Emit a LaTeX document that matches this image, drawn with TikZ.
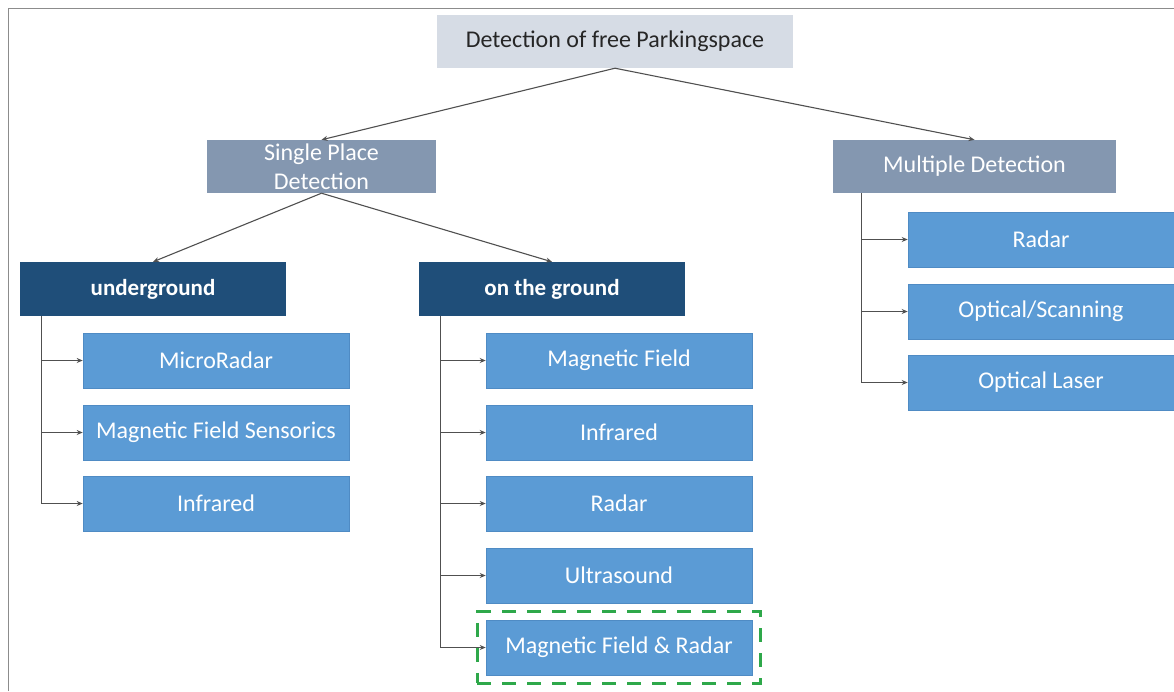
\documentclass[tikz,border=0pt]{standalone}
\usepackage{fontspec}
\setmainfont{Carlito}
\usetikzlibrary{arrows.meta,fit}
\definecolor{rootfill}{HTML}{D6DCE5}
\definecolor{midfill}{HTML}{8497B0}
\definecolor{navy}{HTML}{1F4E79}
\definecolor{leaf}{HTML}{5B9BD5}
\definecolor{leafedge}{HTML}{4F8BC4}
\definecolor{conn}{HTML}{505050}
\definecolor{hl}{HTML}{2EA84A}
\definecolor{frame}{HTML}{8C8C8C}
\tikzset{
  box/.style={rectangle, inner sep=0pt, font=\fontsize{24}{29}\selectfont, text=white, align=center},
  rootbox/.style={box, fill=rootfill, text=black!85, minimum width=356pt, minimum height=53pt},
  midbox/.style={box, fill=midfill, minimum height=53pt},
  catbox/.style={box, fill=navy, minimum width=266pt, minimum height=54pt, font=\fontsize{23}{27}\selectfont\bfseries},
  leafbox/.style={box, fill=leaf, draw=leafedge, line width=0.6pt, minimum width=266pt, minimum height=55pt},
  arr/.style={draw=conn, line width=1.1pt, -{Stealth[length=6pt,width=5pt]}},
  hlbox/.style={draw=hl, line width=3pt, dash pattern=on 14pt off 11pt, inner sep=0pt}
}
\begin{document}
\begin{tikzpicture}[x=1pt,y=-1pt]
\useasboundingbox (0,0) rectangle (1174,691);
\fill[white] (0,0) rectangle (1174,691);
\draw[frame, line width=1.5pt] (8.5,691) -- (8.5,8.5) -- (1174,8.5);
% nodes
\node[rootbox] (root) at (615,41.5) {Detection of free Parkingspace};
\node[midbox, minimum width=229pt] (single) at (321.5,166.5) {Single Place\\Detection};
\node[midbox, minimum width=283pt] (multi) at (974.5,166.5) {Multiple Detection};
\node[catbox] (ug) at (153,289) {underground};
\node[catbox] (og) at (552,289) {on the ground};
\node[leafbox] (u1) at (216,360.5) {MicroRadar};
\node[leafbox] (u2) at (216,432.5) {Magnetic Field Sensorics};
\node[leafbox] (u3) at (216,503.5) {Infrared};
\node[leafbox] (g1) at (619,360.5) {Magnetic Field};
\node[leafbox] (g2) at (619,432.5) {Infrared};
\node[leafbox] (g3) at (619,503.5) {Radar};
\node[leafbox] (g4) at (619,575.5) {Ultrasound};
\node[leafbox] (g5) at (619,647.5) {Magnetic Field \& Radar};
\node[leafbox] (m1) at (1041,239.5) {Radar};
\node[leafbox] (m2) at (1041,311.5) {Optical/Scanning};
\node[leafbox] (m3) at (1041,382.5) {Optical Laser};
\node[hlbox, fit=(g5), inner xsep=8.5pt, inner ysep=8pt] (hl) {};
% connectors
\draw[arr] (root.south) -- (single.north);
\draw[arr] (root.south) -- (multi.north);
\draw[arr] (single.south) -- (ug.north);
\draw[arr] (single.south) -- (og.north);
\foreach \c in {u1,u2,u3} \draw[arr] ([xshift=22pt]ug.south west) |- (\c.west);
\foreach \c in {g1,g2,g3,g4,g5} \draw[arr] ([xshift=22pt]og.south west) |- (\c.west);
\foreach \c in {m1,m2,m3} \draw[arr] ([xshift=29pt]multi.south west) |- (\c.west);
\end{tikzpicture}
\end{document}
